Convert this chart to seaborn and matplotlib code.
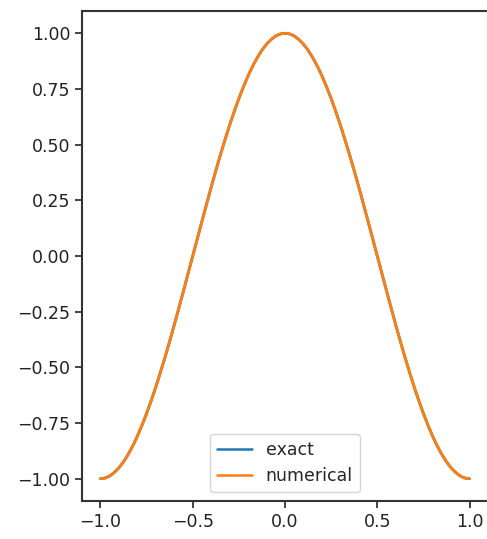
import numpy as np
import pandas as pd
import matplotlib
matplotlib.use("Agg")
import matplotlib.pyplot as plt
import seaborn as sns

# valores
x_vals = [-1.000, -0.975, -0.950, -0.925, -0.900, -0.875, -0.850, -0.825, -0.800, -0.775,
          -0.750, -0.725, -0.700, -0.675, -0.650, -0.625, -0.600, -0.575, -0.550, -0.525,
          -0.500, -0.475, -0.450, -0.425, -0.400, -0.375, -0.350, -0.325, -0.300, -0.275,
          -0.250, -0.225, -0.200, -0.175, -0.150, -0.125, -0.100, -0.075, -0.050, -0.025,
          0.000, 0.025, 0.050, 0.075, 0.100, 0.125, 0.150, 0.175, 0.200, 0.225,
          0.250, 0.275, 0.300, 0.325, 0.350, 0.375, 0.400, 0.425, 0.450, 0.475,
          0.500, 0.525, 0.550, 0.575, 0.600, 0.625, 0.650, 0.675, 0.700, 0.725,
          0.750, 0.775, 0.800, 0.825, 0.850, 0.875, 0.900, 0.925, 0.950, 0.975,
          1.000]
exact = [-1.000, -0.997, -0.988, -0.972, -0.951, -0.924, -0.891, -0.853, -0.809, -0.760,
         -0.707, -0.649, -0.588, -0.522, -0.454, -0.383, -0.309, -0.233, -0.156, -0.078,
         0.000, 0.078, 0.156, 0.233, 0.309, 0.383, 0.454, 0.522, 0.588, 0.649,
         0.707, 0.760, 0.809, 0.853, 0.891, 0.924, 0.951, 0.972, 0.988, 0.997,
         1.000, 0.997, 0.988, 0.972, 0.951, 0.924, 0.891, 0.853, 0.809, 0.760,
         0.707, 0.649, 0.588, 0.522, 0.454, 0.383, 0.309, 0.233, 0.156, 0.078,
         0.000, -0.078, -0.156, -0.233, -0.309, -0.383, -0.454, -0.522, -0.588, -0.649,
         -0.707, -0.760, -0.809, -0.853, -0.891, -0.924, -0.951, -0.972, -0.988, -0.997,
         -1.000]
numerical = [-1.000, -0.997, -0.988, -0.972, -0.951, -0.924, -0.891, -0.853, -0.809, -0.760,
             -0.707, -0.649, -0.588, -0.522, -0.454, -0.383, -0.309, -0.233, -0.156, -0.078,
             0.000, 0.078, 0.156, 0.233, 0.309, 0.383, 0.454, 0.522, 0.588, 0.649,
             0.707, 0.760, 0.809, 0.853, 0.891, 0.924, 0.951, 0.972, 0.988, 0.997,
             1.000, 0.997, 0.988, 0.972, 0.951, 0.924, 0.891, 0.853, 0.809, 0.760,
             0.707, 0.649, 0.588, 0.522, 0.454, 0.383, 0.309, 0.233, 0.156, 0.078,
             0.000, -0.078, -0.156, -0.233, -0.309, -0.383, -0.454, -0.522, -0.588, -0.649,
             -0.707, -0.760, -0.809, -0.853, -0.891, -0.924, -0.951, -0.972, -0.988, -0.997,
             -1.000]
x_ticks = [-1.0, -0.5, 0.0, 0.5, 1.0]
y_ticks = [-1.00, -0.75, -0.50, -0.25, 0.00, 0.25, 0.50, 0.75, 1.00]

df = pd.DataFrame({'x': x_vals, 'exact': exact, 'numerical': numerical})

sns.set_style("ticks")
plt.rcParams['font.family'] = ['DejaVu Sans']

fig = plt.figure(figsize=(4.87, 5.39), dpi=100)
ax = fig.add_axes([82 / 487, 38 / 539, 406 / 487, 490 / 539])

sns.lineplot(data=df, x='x', y='exact', ax=ax, color='#1f77b4', linewidth=2.0, label='exact')
sns.lineplot(data=df, x='x', y='numerical', ax=ax, color='#ff7f0e', linewidth=2.0, label='numerical')

ax.set_xlim(-1.1, 1.1)
ax.set_ylim(-1.1, 1.1)
ax.set_xticks(x_ticks)
ax.set_yticks(y_ticks)
ax.set_xticklabels(['\u22121.0', '\u22120.5', '0.0', '0.5', '1.0'])
ax.set_yticklabels(['\u22121.00', '\u22120.75', '\u22120.50', '\u22120.25', '0.00', '0.25', '0.50', '0.75', '1.00'])
ax.set_xlabel('')
ax.set_ylabel('')
ax.tick_params(labelsize=12.5, colors='#222222', length=5, width=1.2)
for s in ax.spines.values():
    s.set_linewidth(1.5)
    s.set_color('#333333')

leg = ax.legend(loc='lower center', fontsize=12.5, frameon=True)
for h in leg.get_lines():
    h.set_linewidth(1.8)

plt.savefig('out.png', dpi=100)
